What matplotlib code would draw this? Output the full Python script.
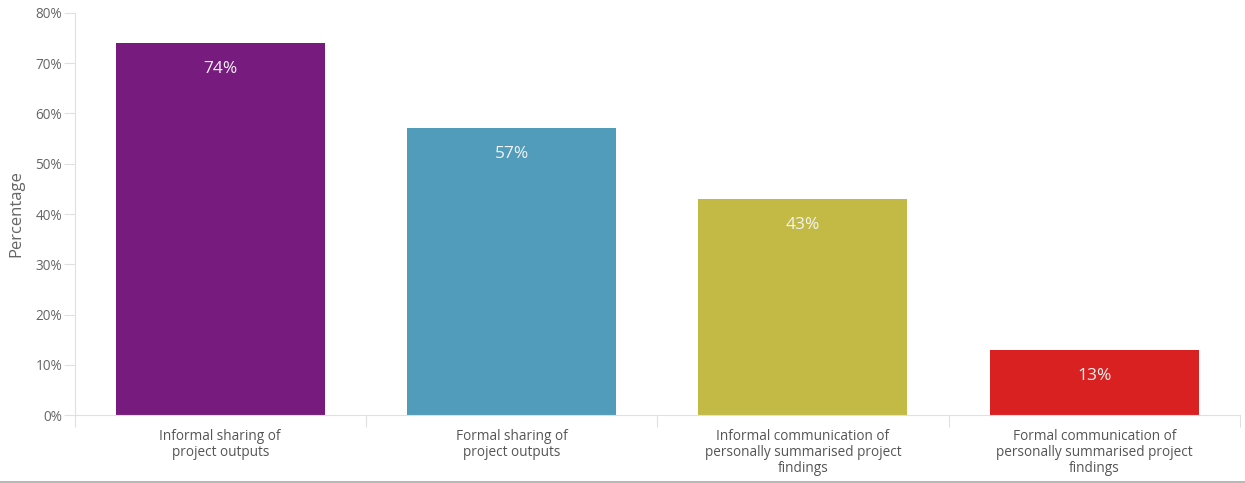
import matplotlib.pyplot as plt
from matplotlib.lines import Line2D
import numpy as np

plt.rcParams['font.family'] = ['Open Sans', 'DejaVu Sans']

categories = ['Informal sharing of\nproject outputs',
              'Formal sharing of\nproject outputs',
              'Informal communication of\npersonally summarised project\nfindings',
              'Formal communication of\npersonally summarised project\nfindings']
values = [74, 57, 43, 13]
colors = ['#771C7E', '#519CBA', '#C3BA45', '#D92121']

fig = plt.figure(figsize=(12.45, 4.83), dpi=100)
ax = fig.add_axes([74.5 / 1245, 1 - 415.3 / 483, (1240 - 74.5) / 1245, (415.3 - 12.7) / 483])

x = np.arange(len(values))
bars = ax.bar(x, values, width=0.717, color=colors, zorder=2)

for b, v in zip(bars, values):
    ax.annotate('%d%%' % v, (b.get_x() + b.get_width() / 2, v),
                xytext=(0, -26), textcoords='offset pixels',
                ha='center', va='center', color='#F2F2F2', fontsize=12.5)

ax.set_xlim(-0.5, len(values) - 0.5)
ax.set_ylim(0, 80)
ax.set_yticks(np.arange(0, 81, 10))
ax.set_yticklabels(['%d%%' % t for t in range(0, 81, 10)])

# category labels at centres, separator ticks at band edges
ax.set_xticks(x)
ax.set_xticklabels(categories, linespacing=1.1)
ax.set_xticks(np.arange(-0.5, len(values)), minor=True)
ax.tick_params(axis='x', which='major', length=0, pad=10, labelsize=9.8, labelcolor='#555555')
ax.tick_params(axis='x', which='minor', length=8.6, width=0.8, color='#E0E0E0', direction='out')
ax.tick_params(axis='y', length=8, width=0.8, color='#E0E0E0', pad=1, labelsize=9.8, labelcolor='#666666')

for s in ['top', 'right']:
    ax.spines[s].set_visible(False)
ax.spines['left'].set_color('#E0E0E0')
ax.spines['bottom'].set_color('#E0E0E0')
ax.spines['left'].set_linewidth(0.8)
ax.spines['bottom'].set_linewidth(0.8)

ax.set_ylabel('Percentage', fontsize=12, color='#666666', labelpad=8)

# thin rule along the bottom edge of the figure
fig.add_artist(Line2D([0, 1], [1.5 / 483, 1.5 / 483], color='#AAAAAA', linewidth=1.2))

fig.savefig('out.png', dpi=100)
